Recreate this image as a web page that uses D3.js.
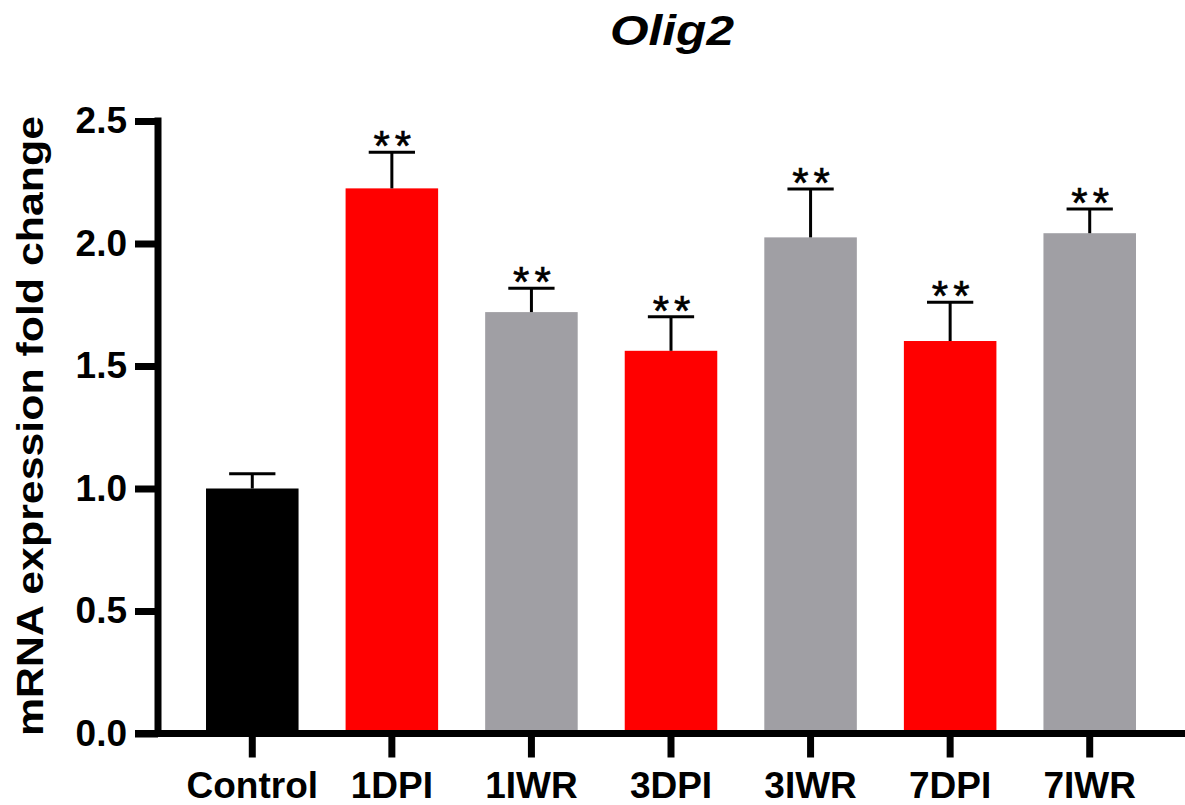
<!DOCTYPE html>
<html>
<head>
<meta charset="utf-8">
<script src="https://cdn.jsdelivr.net/npm/d3@7"></script>
<style>
  html, body { margin: 0; padding: 0; background: #fff; }
  svg { display: block; }
  text { font-family: "Liberation Sans", Arial, Helvetica, sans-serif; }
</style>
</head>
<body>
<div id="chart"></div>
<script>
// Olig2 mRNA fold change per group (mean and SEM)
const categories = ["Control", "1DPI", "1IWR", "3DPI", "3IWR", "7DPI", "7IWR"];
const means      = [1.00, 2.225, 1.72, 1.562, 2.025, 1.602, 2.042];
const sems       = [0.06, 0.147, 0.097, 0.139, 0.197, 0.158, 0.099];
const signif     = ["", "**", "**", "**", "**", "**", "**"];
const barColors  = ["#000000", "#ff0000", "#a09fa4", "#ff0000", "#a09fa4", "#ff0000", "#a09fa4"];
const yTicks     = [0, 0.5, 1.0, 1.5, 2.0, 2.5];

const W = 1185, H = 805;
const axisX = 158, axisY = 733.5;

const svg = d3.select("#chart").append("svg")
  .attr("width", W).attr("height", H);

const x = d3.scaleBand()
  .domain(categories)
  .range([axisX, 1184])
  .paddingInner(0.337)
  .paddingOuter(0.344);

const y = d3.scaleLinear()
  .domain([0, 2.5])
  .range([axisY, 121]);

// bars
svg.append("g").selectAll("rect")
  .data(categories)
  .join("rect")
  .attr("x", d => x(d))
  .attr("width", x.bandwidth())
  .attr("y", (d, i) => y(means[i]))
  .attr("height", (d, i) => axisY - y(means[i]))
  .attr("fill", (d, i) => barColors[i]);

// error bars (upper whisker only)
const capW = x.bandwidth() / 2;
const eb = svg.append("g").attr("stroke", "#000").attr("stroke-width", 3);
categories.forEach((c, i) => {
  const cx = x(c) + x.bandwidth() / 2;
  const top = y(means[i] + sems[i]);
  eb.append("line")
    .attr("x1", cx).attr("x2", cx)
    .attr("y1", y(means[i])).attr("y2", top);
  eb.append("line")
    .attr("x1", cx - capW / 2).attr("x2", cx + capW / 2)
    .attr("y1", top).attr("y2", top);
});

// significance marks
svg.append("g").selectAll("text")
  .data(categories)
  .join("text")
  .attr("x", d => x(d) + x.bandwidth() / 2 + 3)
  .attr("y", (d, i) => y(means[i] + sems[i]) + 8)
  .attr("text-anchor", "middle")
  .attr("font-size", 42)
  .attr("letter-spacing", 5)
  .attr("fill", "#000")
  .attr("stroke", "#000")
  .attr("stroke-width", 0.6)
  .text((d, i) => signif[i]);

// y axis
const yAxis = svg.append("g")
  .attr("transform", `translate(${axisX},0)`)
  .call(d3.axisLeft(y).tickValues(yTicks).tickFormat(d3.format(".1f")).tickSize(23).tickPadding(8));
yAxis.select(".domain").remove();
yAxis.selectAll(".tick line").attr("stroke", "#000").attr("stroke-width", 7);
yAxis.selectAll(".tick text")
  .attr("font-size", 37).attr("font-weight", "bold").attr("fill", "#000")
  .attr("font-family", "Liberation Sans, Arial, sans-serif");
svg.append("line")
  .attr("x1", axisX).attr("x2", axisX)
  .attr("y1", y(2.5) - 3.5).attr("y2", axisY + 3.5)
  .attr("stroke", "#000").attr("stroke-width", 7);

// x axis
const xAxis = svg.append("g")
  .attr("transform", `translate(0,${axisY})`)
  .call(d3.axisBottom(x).tickSize(24).tickPadding(14));
xAxis.select(".domain").remove();
xAxis.selectAll(".tick line").attr("stroke", "#000").attr("stroke-width", 7);
xAxis.selectAll(".tick text")
  .attr("font-size", 37).attr("font-weight", "bold").attr("fill", "#000")
  .attr("font-family", "Liberation Sans, Arial, sans-serif");
svg.append("line")
  .attr("x1", 135).attr("x2", W)
  .attr("y1", axisY).attr("y2", axisY)
  .attr("stroke", "#000").attr("stroke-width", 7);

// y axis title
svg.append("text")
  .attr("transform", `translate(43,426) rotate(-90)`)
  .attr("text-anchor", "middle")
  .attr("font-size", 37)
  .attr("font-weight", "bold")
  .attr("textLength", 620)
  .attr("lengthAdjust", "spacingAndGlyphs")
  .text("mRNA expression fold change");

// chart title
svg.append("text")
  .attr("x", 672).attr("y", 45)
  .attr("text-anchor", "middle")
  .attr("font-size", 43)
  .attr("font-weight", "bold")
  .attr("font-style", "italic")
  .attr("textLength", 124)
  .attr("lengthAdjust", "spacingAndGlyphs")
  .text("Olig2");
</script>
</body>
</html>
